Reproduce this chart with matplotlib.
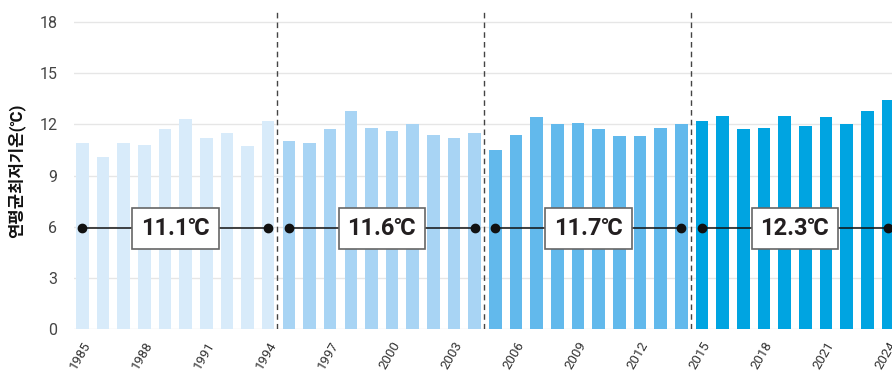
import numpy as np
import matplotlib
matplotlib.use('Agg')
import matplotlib.pyplot as plt

plt.rcParams['font.family'] = ['Roboto', 'Noto Sans CJK KR', 'DejaVu Sans']

years = np.arange(1985, 2025)
temps = [10.9, 10.1, 10.9, 10.8, 11.7, 12.3, 11.2, 11.5, 10.7, 12.2,
         11.0, 10.9, 11.7, 12.8, 11.8, 11.6, 12.0, 11.4, 11.2, 11.5,
         10.5, 11.4, 12.4, 12.0, 12.1, 11.7, 11.3, 11.3, 11.8, 12.0,
         12.2, 12.5, 11.7, 11.8, 12.5, 11.9, 12.4, 12.0, 12.8, 13.4]
decade_start = [1985, 1995, 2005, 2015]
decade_end = [1994, 2004, 2014, 2024]
decade_mean = ['11.1℃', '11.6℃', '11.7℃', '12.3℃']
decade_color = ['#d8ebfa', '#a8d4f4', '#62b9ec', '#00a4e1']

fig = plt.figure(figsize=(8.92, 3.72), dpi=100)
ax = fig.add_axes([0.083, 0.115, 0.917, 0.854])

colors = []
for y in years:
    for s, e, c in zip(decade_start, decade_end, decade_color):
        if s <= y <= e:
            colors.append(c)
ax.bar(years, temps, width=0.61, color=colors, zorder=2)

# decade separators
for s in decade_start[1:]:
    ax.axvline(s - 0.55, color='#444444', linestyle=(0, (4, 3)), linewidth=1, zorder=3)

# decade averages
for s, e, t in zip(decade_start, decade_end, decade_mean):
    ax.plot([s, e], [5.9, 5.9], color='#111111', linewidth=1.1, marker='o',
            markersize=6, zorder=4)
    ax.text((s + e) / 2, 5.9, t, ha='center', va='center', fontsize=17,
            fontweight='bold', color='#231f20', zorder=5,
            bbox=dict(boxstyle='square,pad=0.38', facecolor='white',
                      edgecolor='#666666', linewidth=1.2))

ax.set_xlim(1984.6, 2024.2)
ax.set_ylim(0, 18.6)
ax.set_yticks([0, 3, 6, 9, 12, 15, 18])
ax.set_xticks(years[::3])
ax.set_xticklabels([str(y) for y in years[::3]], rotation=60, ha='right',
                   rotation_mode='anchor', fontsize=9.5, color='#333333')
ax.tick_params(axis='x', length=0, pad=7)
ax.tick_params(axis='y', length=0, pad=12, labelsize=11.5, labelcolor='#444444')
ax.yaxis.grid(True, color='#e6e6e6', linewidth=1, zorder=0)
ax.set_axisbelow(True)
for sp in ax.spines.values():
    sp.set_visible(False)

ax.set_ylabel('연평균최저기온(℃)', fontsize=12, fontweight='bold', color='#111111',
              labelpad=10)

fig.savefig('out.png', dpi=100)
